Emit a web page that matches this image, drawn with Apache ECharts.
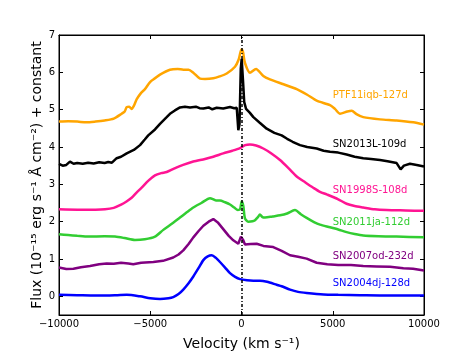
<!DOCTYPE html>
<html>
<head>
<meta charset="utf-8">
<script src="https://cdn.jsdelivr.net/npm/echarts@6/dist/echarts.min.js"></script>
<style>
  html, body { margin: 0; padding: 0; background: #fff; }
  #main { width: 471px; height: 356px; }
</style>
</head>
<body>
<div id="main"></div>
<script>
//-------------------------数据-------------------------------
var xTicks = [-10000, -5000, 0, 5000, 10000];
var yTicks = [0, 1, 2, 3, 4, 5, 6, 7];

// [velocity, flux]
var ptf11iqb = [[-10000,4.68],[-9500,4.69],[-9000,4.68],[-8500,4.66],[-8000,4.68],[-7500,4.71],[-7000,4.76],[-6570,4.89],[-6400,4.95],[-6290,5.07],[-6150,5.08],[-6020,5.02],[-5900,5.10],[-5740,5.28],[-5500,5.45],[-5290,5.55],[-5010,5.74],[-4740,5.84],[-4465,5.94],[-3920,6.07],[-3500,6.09],[-3190,6.07],[-2900,6.07],[-2640,5.99],[-2270,5.83],[-2000,5.82],[-1545,5.84],[-1200,5.89],[-810,5.97],[-356,6.15],[-150,6.35],[0,6.62],[80,6.55],[190,6.25],[465,5.99],[795,6.09],[1195,5.90],[1560,5.81],[2300,5.68],[3025,5.55],[3600,5.40],[4120,5.24],[4850,5.12],[5120,5.02],[5400,4.89],[5800,4.95],[6040,4.97],[6300,4.88],[6670,4.80],[7590,4.74],[8500,4.71],[9410,4.66],[10000,4.60]];
var sn2013L = [[-10000,3.55],[-9800,3.50],[-9600,3.52],[-9400,3.61],[-9200,3.55],[-9000,3.57],[-8700,3.55],[-8400,3.58],[-8100,3.56],[-7800,3.59],[-7500,3.57],[-7300,3.60],[-7100,3.58],[-6840,3.70],[-6600,3.74],[-6290,3.83],[-5900,3.92],[-5560,4.05],[-5300,4.20],[-5110,4.31],[-4740,4.47],[-4465,4.62],[-4100,4.80],[-3920,4.89],[-3650,4.98],[-3370,5.06],[-3100,5.08],[-2820,5.06],[-2500,5.08],[-2300,5.04],[-2090,5.03],[-1800,5.06],[-1600,5.01],[-1360,5.05],[-1000,5.03],[-630,5.07],[-400,5.04],[-260,5.05],[-175,4.45],[-110,4.6],[-40,6.1],[10,6.36],[80,5.8],[150,5.2],[250,5.02],[450,4.92],[650,4.80],[1000,4.65],[1380,4.49],[1800,4.38],[2200,4.31],[2500,4.22],[2800,4.14],[3205,4.05],[3600,4.00],[4120,3.96],[4500,3.90],[4850,3.87],[5300,3.85],[5760,3.80],[6200,3.74],[6670,3.70],[7100,3.68],[7590,3.65],[8000,3.62],[8500,3.57],[8720,3.40],[8900,3.50],[9230,3.55],[9600,3.52],[10000,3.48]];
var sn1998S = [[-10000,2.33],[-9000,2.32],[-8000,2.32],[-7480,2.33],[-7000,2.37],[-6570,2.46],[-6300,2.54],[-6020,2.64],[-5750,2.78],[-5470,2.91],[-5100,3.10],[-4740,3.24],[-4400,3.30],[-4100,3.33],[-3700,3.42],[-3200,3.52],[-2640,3.61],[-2000,3.68],[-1545,3.74],[-1000,3.83],[-500,3.90],[-80,3.97],[200,4.05],[465,4.07],[800,4.04],[1195,3.96],[1600,3.84],[2110,3.65],[2600,3.42],[3025,3.21],[3500,3.05],[3930,2.91],[4300,2.80],[4670,2.73],[5300,2.60],[5760,2.48],[6200,2.42],[6670,2.38],[7300,2.33],[7950,2.31],[9000,2.30],[10000,2.29]];
var sn2011ja = [[-10000,1.66],[-9500,1.64],[-9000,1.62],[-8390,1.60],[-7500,1.61],[-6930,1.60],[-6400,1.56],[-5840,1.51],[-5300,1.53],[-4740,1.60],[-4285,1.78],[-3800,1.95],[-3370,2.11],[-3000,2.25],[-2640,2.38],[-2200,2.50],[-1725,2.63],[-1400,2.57],[-1180,2.57],[-900,2.52],[-630,2.46],[-400,2.38],[-200,2.31],[-80,2.33],[10,2.54],[100,2.42],[190,2.09],[370,2.00],[600,2.01],[740,2.04],[900,2.12],[1010,2.19],[1150,2.12],[1290,2.11],[1700,2.14],[2110,2.17],[2500,2.22],[2930,2.31],[3250,2.20],[3570,2.10],[4000,1.98],[4300,1.92],[4850,1.85],[5300,1.79],[5760,1.72],[6200,1.67],[6670,1.63],[7500,1.61],[8500,1.60],[10000,1.58]];
var sn2007od = [[-10000,0.77],[-9600,0.73],[-9210,0.74],[-8800,0.78],[-8300,0.81],[-7800,0.86],[-7385,0.88],[-7000,0.87],[-6600,0.90],[-6200,0.88],[-5930,0.86],[-5500,0.90],[-4830,0.92],[-4300,0.95],[-3740,1.04],[-3450,1.12],[-3190,1.23],[-2900,1.40],[-2640,1.58],[-2350,1.75],[-2090,1.89],[-1800,2.00],[-1545,2.07],[-1300,1.98],[-1000,1.80],[-700,1.62],[-450,1.50],[-175,1.41],[-30,1.60],[80,1.52],[190,1.39],[500,1.40],[830,1.41],[1200,1.35],[1740,1.32],[2200,1.22],[2660,1.10],[3100,1.06],[3570,1.01],[4120,0.90],[4700,0.86],[5300,0.84],[6000,0.84],[6670,0.81],[7400,0.80],[8140,0.79],[8870,0.75],[9400,0.74],[10000,0.69]];
var sn2004dj = [[-10000,0.04],[-9000,0.03],[-8000,0.02],[-7385,0.02],[-6800,0.03],[-6290,0.04],[-5560,0.00],[-5000,-0.05],[-4465,-0.07],[-4000,-0.05],[-3740,-0.02],[-3450,0.06],[-3190,0.18],[-2900,0.35],[-2640,0.53],[-2350,0.76],[-2090,0.97],[-1850,1.07],[-1630,1.10],[-1400,1.03],[-1180,0.92],[-900,0.77],[-630,0.62],[-350,0.52],[-80,0.46],[300,0.43],[650,0.42],[1010,0.42],[1400,0.39],[1930,0.31],[2200,0.27],[2660,0.18],[3100,0.12],[3570,0.09],[4500,0.05],[5300,0.04],[6500,0.03],[8000,0.02],[10000,0.02]];

// 名称标签位置
var labelNames = ['PTF11iqb-127d', 'SN2013L-109d', 'SN1998S-108d', 'SN2011ja-112d', 'SN2007od-232d', 'SN2004dj-128d'];
var labelX = [5000, 5000, 5000, 5000, 5000, 5000];
var labelY = [5.39, 4.07, 2.83, 1.98, 1.06, 0.34];

//-------------------------图表-------------------------------
var colors = ['#FFA500', '#000000', '#FF1493', '#32CD32', '#800080', '#0000FF'];
var spectra = [ptf11iqb, sn2013L, sn1998S, sn2011ja, sn2007od, sn2004dj];
var font = 'DejaVu Sans';

var series = [];
for (var i = 0; i < spectra.length; i++) {
    series.push({
        name: labelNames[i],
        type: 'line',
        data: spectra[i],
        showSymbol: false,
        smooth: (i == 1 || i == 4) ? false : 0.25,
        lineStyle: { color: colors[i], width: 2.5 },
        z: 3
    });
}
// 零速度虚线
series[0].markLine = {
    silent: true,
    symbol: 'none',
    label: { show: false },
    lineStyle: { color: '#000', width: 1.5, type: [3, 2, 1, 2], opacity: 1 },
    data: [{ xAxis: 0 }]
};
// 曲线名称
for (var j = 0; j < labelNames.length; j++) {
    series.push({
        type: 'scatter',
        symbolSize: 0,
        itemStyle: { opacity: 1 },
        data: [[labelX[j], labelY[j], labelNames[j]]],
        label: {
            show: true,
            position: 'right',
            distance: 0,
            opacity: 1,
            formatter: function(p) { return p.value[2]; },
            color: colors[j],
            fontFamily: font,
            fontSize: 10
        },
        z: 4
    });
}

function axisLine() {
    return { show: true, onZero: false, lineStyle: { color: '#000', width: 1 } };
}
function tickStyle(vals) {
    var t = { inside: true, length: 4, lineStyle: { color: '#000', width: 1 } };
    if (vals) t.customValues = vals;
    return t;
}

var option = {
    backgroundColor: '#fff',
    animation: false,
    //外框
    grid: { left: 59, right: 47, top: 35, bottom: 37, show: true, borderColor: '#000', borderWidth: 1, backgroundColor: 'transparent' },
    xAxis: [{
        type: 'value', min: -10000, max: 10000, interval: 5000,
        name: 'Velocity (km s\u207B\u00B9)',
        nameLocation: 'middle', nameGap: 22,
        nameTextStyle: { fontFamily: font, fontSize: 14, color: '#000' },
        axisLine: axisLine(),
        axisTick: tickStyle(),
        splitLine: { show: false },
        axisLabel: {
            fontFamily: font, fontSize: 10, color: '#000', margin: 4,
            formatter: function(v) { return String(v).replace('-', '\u2212'); }
        }
    }, {
        type: 'value', position: 'top', min: -10000, max: 10000, interval: 5000,
        axisLine: axisLine(), axisTick: tickStyle(),
        axisLabel: { show: false }, splitLine: { show: false }
    }],
    yAxis: [{
        type: 'value', min: -0.5, max: 7, interval: 0.5,
        name: 'Flux (10\u207B\u00B9\u2075 erg s\u207B\u00B9 \u00C5 cm\u207B\u00B2) + constant',
        nameLocation: 'middle', nameGap: 15, nameRotate: 90, nameMoveOverlap: false,
        nameTextStyle: { fontFamily: font, fontSize: 14, color: '#000' },
        axisLine: axisLine(),
        axisTick: tickStyle(yTicks),
        splitLine: { show: false },
        axisLabel: { fontFamily: font, fontSize: 10, color: '#000', margin: 4, customValues: yTicks }
    }, {
        type: 'value', position: 'right', min: -0.5, max: 7, interval: 0.5,
        axisLine: axisLine(),
        axisTick: tickStyle(yTicks),
        axisLabel: { show: false }, splitLine: { show: false }
    }],
    series: series
};

var myChart = echarts.init(document.getElementById('main'));
myChart.setOption(option);
</script>
</body>
</html>
